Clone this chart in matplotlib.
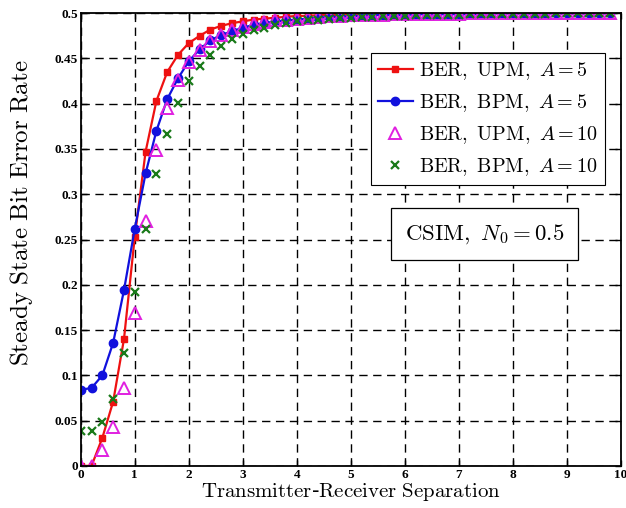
import matplotlib
matplotlib.use('Agg')
import matplotlib.pyplot as plt

# data #################################################################
sep = [0.0, 0.2, 0.4, 0.6, 0.8, 1.0, 1.2, 1.4, 1.6, 1.8,
       2.0, 2.2, 2.4, 2.6, 2.8, 3.0, 3.2, 3.4, 3.6, 3.8,
       4.0, 4.2, 4.4, 4.6, 4.8, 5.0, 5.2, 5.4, 5.6, 5.8,
       6.0, 6.2, 6.4, 6.6, 6.8, 7.0, 7.2, 7.4, 7.6, 7.8,
       8.0, 8.2, 8.4, 8.6, 8.8, 9.0, 9.2, 9.4, 9.6, 9.8]

ber_upm_a5 = [0.000, 0.000, 0.031, 0.071, 0.140, 0.253, 0.347, 0.403, 0.435, 0.454,
              0.467, 0.475, 0.482, 0.486, 0.489, 0.491, 0.493, 0.494, 0.495, 0.496,
              0.497, 0.497, 0.498, 0.498, 0.498, 0.499, 0.499, 0.499, 0.499, 0.499,
              0.500, 0.500, 0.500, 0.500, 0.500, 0.500, 0.500, 0.500, 0.500, 0.500,
              0.500, 0.500, 0.500, 0.500, 0.500, 0.500, 0.500, 0.500, 0.500, 0.500]

ber_bpm_a5 = [0.084, 0.086, 0.100, 0.136, 0.194, 0.262, 0.323, 0.370, 0.405, 0.428,
              0.447, 0.460, 0.470, 0.476, 0.480, 0.484, 0.487, 0.489, 0.491, 0.492,
              0.493, 0.494, 0.495, 0.496, 0.496, 0.497, 0.497, 0.498, 0.498, 0.498,
              0.498, 0.499, 0.499, 0.499, 0.499, 0.499, 0.499, 0.499, 0.500, 0.500,
              0.500, 0.500, 0.500, 0.500, 0.500, 0.500, 0.500, 0.500, 0.500, 0.500]

ber_upm_a10 = [0.000, 0.000, 0.018, 0.043, 0.086, 0.169, 0.271, 0.349, 0.395, 0.426,
               0.446, 0.459, 0.469, 0.476, 0.481, 0.485, 0.488, 0.490, 0.492, 0.493,
               0.494, 0.495, 0.496, 0.497, 0.497, 0.498, 0.498, 0.498, 0.498, 0.499,
               0.499, 0.499, 0.499, 0.499, 0.499, 0.499, 0.500, 0.500, 0.500, 0.500,
               0.500, 0.500, 0.500, 0.500, 0.500, 0.500, 0.500, 0.500, 0.500, 0.500]

ber_bpm_a10 = [0.038, 0.039, 0.048, 0.074, 0.125, 0.192, 0.262, 0.322, 0.367, 0.401,
               0.425, 0.442, 0.454, 0.464, 0.471, 0.477, 0.481, 0.484, 0.487, 0.489,
               0.491, 0.492, 0.493, 0.494, 0.495, 0.495, 0.496, 0.496, 0.497, 0.497,
               0.497, 0.498, 0.498, 0.498, 0.498, 0.498, 0.499, 0.499, 0.499, 0.499,
               0.499, 0.499, 0.499, 0.499, 0.500, 0.500, 0.500, 0.500, 0.500, 0.500]

xticks = [0, 1, 2, 3, 4, 5, 6, 7, 8, 9, 10]
yticks = [0, 0.05, 0.1, 0.15, 0.2, 0.25, 0.3, 0.35, 0.4, 0.45, 0.5]
ytick_labels = ['0', '0.05', '0.1', '0.15', '0.2', '0.25', '0.3', '0.35', '0.4', '0.45', '0.5']

plt.rcParams['mathtext.fontset'] = 'cm'

fig = plt.figure(figsize=(6.26, 5.08), dpi=100)
ax = fig.add_axes([0.129, 0.083, 0.863, 0.891])

ax.plot(sep, ber_upm_a5, color='#ee1111', lw=1.6, marker='s', ms=5,
        label=r'$\mathrm{BER,\ UPM,\ }A=5$')
ax.plot(sep, ber_bpm_a5, color='#1111dd', lw=1.6, marker='o', ms=6,
        label=r'$\mathrm{BER,\ BPM,\ }A=5$')
ax.plot(sep, ber_upm_a10, ls='none', marker='^', ms=9, mfc='none', mec='#e020e0', mew=1.4,
        label=r'$\mathrm{BER,\ UPM,\ }A=10$')
ax.plot(sep, ber_bpm_a10, ls='none', marker='x', ms=6, color='#1a7a1a', mew=1.6,
        label=r'$\mathrm{BER,\ BPM,\ }A=10$')

ax.set_xlim(0, 10)
ax.set_ylim(0, 0.5)
tickfont = dict(family='Liberation Serif', weight='bold', size=9.5)
ax.set_xticks(xticks)
ax.set_xticklabels([str(t) for t in xticks], fontdict=tickfont)
ax.set_yticks(yticks)
ax.set_yticklabels(ytick_labels, fontdict=tickfont)
ax.tick_params(direction='in', top=True, right=True, length=4, width=1, pad=2)
for s in ax.spines.values():
    s.set_linewidth(1.3)

ax.grid(True, color='black', ls=(0, (6, 4)), lw=1.0)

ax.set_xlabel(r'$\mathrm{Transmitter}$-$\mathrm{Receiver\ Separation}$', fontsize=15, labelpad=0)
ax.set_ylabel(r'$\mathrm{Steady\ State\ Bit\ Error\ Rate}$', fontsize=18)
ax.yaxis.set_label_coords(-0.085, 0.56)

leg = ax.legend(loc='upper right', bbox_to_anchor=(0.97, 0.912), fontsize=14.5,
                frameon=True, fancybox=False, framealpha=1, edgecolor='black',
                handlelength=1.7, handletextpad=0.3, borderpad=0.35, labelspacing=0.5,
                borderaxespad=0)
leg.get_frame().set_linewidth(0.8)

ax.text(0.747, 0.512, r'$\mathrm{CSIM,\ }N_0=0.5$', transform=ax.transAxes, fontsize=16.5,
        ha='center', va='center',
        bbox=dict(boxstyle='square,pad=0.6', fc='white', ec='black', lw=0.9))

plt.savefig('out.png', dpi=100)
